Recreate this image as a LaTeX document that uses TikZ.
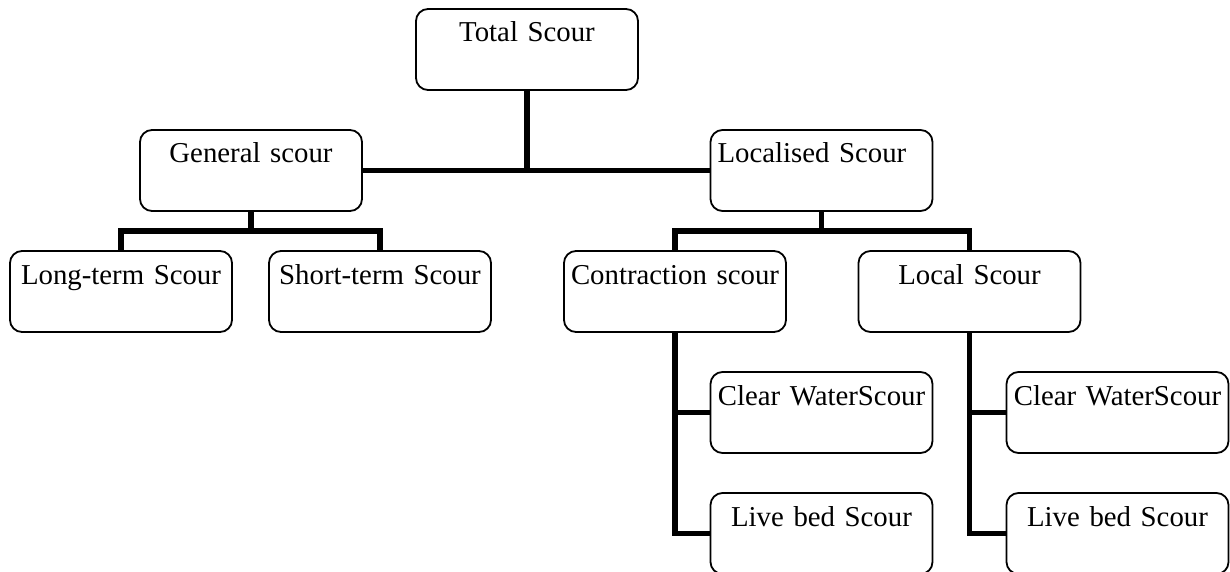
\documentclass[tikz,border=0pt]{standalone}
\usepackage{fontspec}
\setmainfont{Liberation Serif}
\usepackage{tikz}
\usetikzlibrary{positioning, calc}
\tikzstyle{scourbox} = [rectangle, rounded corners=6pt, draw=black, line width=0.9pt, inner xsep=1pt, inner ysep=0pt, text width=109pt, align=center, text height=16.5pt, text depth=24pt, font=\fontsize{14.4}{17}\selectfont]
\tikzstyle{leftbox} = [scourbox, align=left, inner xsep=3.5pt, text width=104pt]
\tikzstyle{link} = [line width=2.6pt, line join=miter]

\begin{document}
\begin{tikzpicture}[x=0.5pt, y=-0.5pt]
                \useasboundingbox (0,0) rectangle (1230,572);
                \node (total) [scourbox] at (527,49.5) {Total Scour};
                \node (general) [scourbox] at (251,170.5) {General scour};
                \node (localised) [leftbox] at (821.5,170.5) {Localised Scour};
                \node (longterm) [scourbox] at (121,291.5) {Long-term Scour};
                \node (shortterm) [scourbox] at (380,291.5) {Short-term Scour};
                \node (contraction) [scourbox] at (675,291.5) {Contraction scour};
                \node (local) [scourbox] at (969.5,291.5) {Local Scour};
                \node (clearone) [scourbox] at (821.5,412.5) {Clear WaterScour};
                \node (liveone) [scourbox] at (821.5,533.5) {Live bed Scour};
                \node (cleartwo) [scourbox] at (1117.5,412.5) {Clear WaterScour};
                \node (livetwo) [scourbox] at (1117.5,533.5) {Live bed Scour};

                \coordinate (gsplit) at ($(general.south)!0.5!(general.south |- longterm.north)$);
                \coordinate (lsplit) at ($(localised.south)!0.5!(localised.south |- contraction.north)$);

                \draw [link] (total.south) -- (total.south |- general.east);
                \draw [link] (general.east) -- (localised.west);

                \draw [link] (general.south) -- (gsplit);
                \draw [link] (longterm.north) |- (gsplit) -| (shortterm.north);

                \draw [link] (localised.south) -- (lsplit);
                \draw [link] (contraction.north) |- (lsplit) -| (local.north);

                \draw [link] (contraction.south) |- (clearone.west);
                \draw [link] (contraction.south) |- (liveone.west);
                \draw [link] (local.south) |- (cleartwo.west);
                \draw [link] (local.south) |- (livetwo.west);
            \end{tikzpicture}
\end{document}
